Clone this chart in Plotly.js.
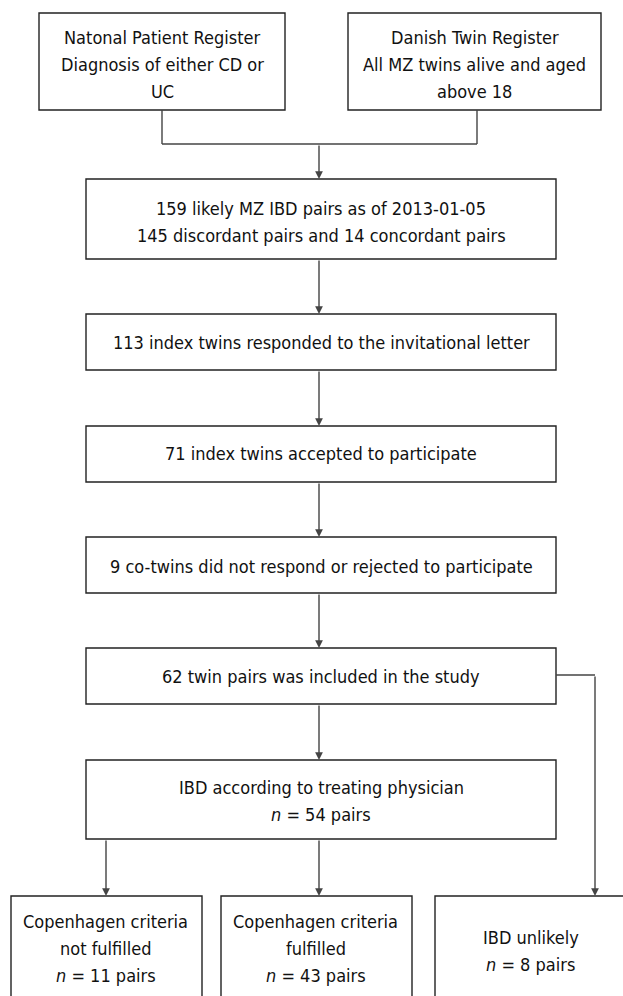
<!DOCTYPE html>
<html>
<head>
<meta charset="utf-8">
<script src="https://cdn.plot.ly/plotly-3.0.1.min.js"></script>
<style>html,body{margin:0;padding:0;background:#fff;}#chart{width:623px;height:996px;}</style>
</head>
<body>
<div id="chart"></div>
<script>
// ---- data (texts and counts) ----
const sourceNames = ["Natonal Patient Register", "Danish Twin Register"];
const sourceCriteria = ["Diagnosis of either CD or|UC", "All MZ twins alive and aged|above 18"];
const likelyPairs = 159, discordantPairs = 145, concordantPairs = 14;
const likelyDate = "2013-01-05";
const stageCounts = [113, 71, 9, 62];
const stageTexts = ["index twins responded to the invitational letter",
                    "index twins accepted to participate",
                    "co-twins did not respond or rejected to participate",
                    "twin pairs was included in the study"];
const physicianLabel = "IBD according to treating physician";
const physicianCount = 54;
const outcomeLabels = ["Copenhagen criteria|not fulfilled", "Copenhagen criteria|fulfilled", "IBD unlikely"];
const outcomeCounts = [11, 43, 8];

// ---- build box texts ----
const nLine = c => "<i>n</i> = " + c + " pairs";
const boxLines = [
  [sourceNames[0]].concat(sourceCriteria[0].split("|")),
  [sourceNames[1]].concat(sourceCriteria[1].split("|")),
  [likelyPairs + " likely MZ IBD pairs as of " + likelyDate,
   discordantPairs + " discordant pairs and " + concordantPairs + " concordant pairs"],
  [stageCounts[0] + " " + stageTexts[0]],
  [stageCounts[1] + " " + stageTexts[1]],
  [stageCounts[2] + " " + stageTexts[2]],
  [stageCounts[3] + " " + stageTexts[3]],
  [physicianLabel, nLine(physicianCount)],
  outcomeLabels[0].split("|").concat([nLine(outcomeCounts[0])]),
  outcomeLabels[1].split("|").concat([nLine(outcomeCounts[1])]),
  outcomeLabels[2].split("|").concat([nLine(outcomeCounts[2])])
];

// ---- geometry (pixels, y downwards) ----
const geom = [ // x0, x1, y0, y1, text centre y
  [39, 285, 13, 110, 64.5],
  [348, 601, 13, 110, 64.5],
  [86, 556, 179, 259, 221.5],
  [86, 556, 314, 370, 342],
  [86, 556, 426, 482, 453],
  [86, 556, 537, 593, 566],
  [86, 556, 648, 704, 676],
  [86, 556, 760, 839, 800.5],
  [11, 202, 896, 1010, 948.5],
  [221, 412, 896, 1010, 948.5],
  [435, 630, 896, 1010, 950.5]
];
const lineGap = 27;
const boxColor = "#222";
const linkColor = "#444";
const font = {family: "DejaVu Sans Condensed, DejaVu Sans, sans-serif", size: 18, color: "#111"};

const shapes = [];
const annotations = [];

geom.forEach((g, i) => {
  shapes.push({type: "rect", xref: "x", yref: "y", x0: g[0], x1: g[1], y0: g[2], y1: g[3],
               line: {color: boxColor, width: 1.4}, fillcolor: "rgba(0,0,0,0)"});
  const lines = boxLines[i];
  const cx = (g[0] + g[1]) / 2 - (i === 10 ? 2 : 0);
  lines.forEach((t, k) => {
    annotations.push({x: (i >= 8 && i <= 9) ? cx - 1 : cx, y: g[4] + (k - (lines.length - 1) / 2) * lineGap,
      xref: "x", yref: "y", text: t, showarrow: false, font: font,
      xanchor: "center", yanchor: "middle"});
  });
});

// connectors (plain lines)
const colX = 319;
const segs = [
  [162, 110, 162, 144], [477, 110, 477, 144], [162, 144, 477, 144],
  [556, 675, 595, 675]
];
segs.forEach(s => shapes.push({type: "line", xref: "x", yref: "y", x0: s[0], y0: s[1], x1: s[2], y1: s[3],
  line: {color: linkColor, width: 1.4}}));

// arrows: [x, fromY, toY]
const arrows = [
  [colX, 144, 179], [colX, 259, 314], [colX, 370, 426], [colX, 482, 537],
  [colX, 593, 648], [colX, 704, 760], [106, 839, 896], [colX, 839, 896], [595, 675, 896]
];
arrows.forEach(a => annotations.push({x: a[0], y: a[2], ax: a[0], ay: a[1], xref: "x", yref: "y",
  axref: "x", ayref: "y", text: "", showarrow: true, arrowhead: 2, arrowsize: 1.1, arrowwidth: 1.4,
  arrowcolor: linkColor, standoff: 0}));

const layout = {
  width: 623, height: 996,
  margin: {l: 0, r: 0, t: 0, b: 0},
  paper_bgcolor: "#fff", plot_bgcolor: "#fff",
  showlegend: false,
  xaxis: {range: [0, 623], visible: false, fixedrange: true},
  yaxis: {range: [996, 0], visible: false, fixedrange: true},
  shapes: shapes,
  annotations: annotations
};

Plotly.newPlot("chart", [{x: [0, 623], y: [0, 996], mode: "markers", marker: {opacity: 0}, hoverinfo: "skip"}],
  layout, {staticPlot: true, displayModeBar: false});
</script>
</body>
</html>
